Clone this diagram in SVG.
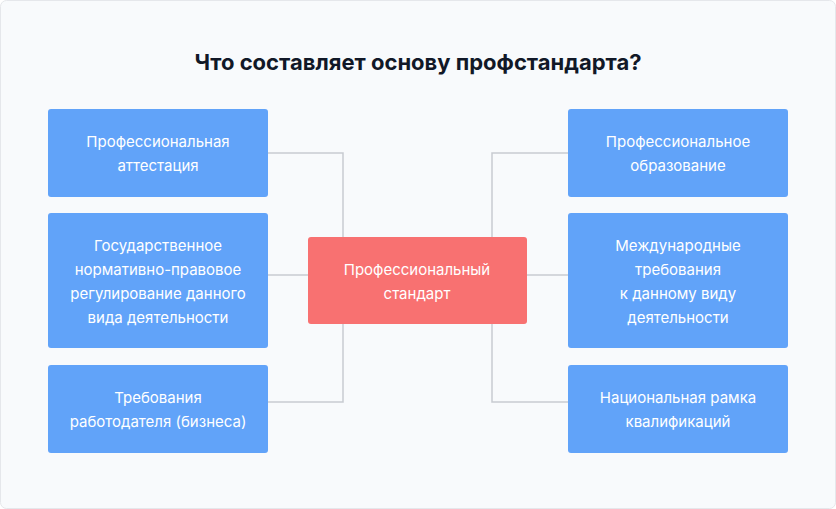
<svg xmlns="http://www.w3.org/2000/svg" width="836" height="509" viewBox="0 0 836 509">
<style>
.b{fill:#61a3f9}
.c{fill:#f87171}
.t{font-family:Inter,"Noto Sans",sans-serif;font-size:15px;fill:#fff;text-anchor:middle}
.h{font-family:Inter,"Noto Sans",sans-serif;font-size:22px;font-weight:700;fill:#111827;text-anchor:middle}
.l{fill:none;stroke:#c7cbd1;stroke-width:1.5}
</style>
<rect x="0.5" y="0.5" width="835" height="508" rx="6" fill="#f8fafc" stroke="#e5e7eb"/>
<text class="h" x="418" y="70">Что составляет основу профстандарта?</text>
<g id="connectors">
<path class="l" d="M268 153H343V237M268 275H308M268 402H343V324"/>
<path class="l" d="M568 153H492V237M568 275H527M568 402H492V324"/>
</g>
<g id="n1"><rect class="b" x="48" y="109" width="220" height="88" rx="3"/><text class="t" x="158" y="147">Профессиональная</text><text class="t" x="158" y="171">аттестация</text></g>
<g id="n2"><rect class="b" x="48" y="213" width="220" height="135" rx="3"/><text class="t" x="158" y="251">Государственное</text><text class="t" x="158" y="275">нормативно-правовое</text><text class="t" x="158" y="299">регулирование данного</text><text class="t" x="158" y="323">вида деятельности</text></g>
<g id="n3"><rect class="b" x="48" y="365" width="220" height="88" rx="3"/><text class="t" x="158" y="403">Требования</text><text class="t" x="158" y="427">работодателя (бизнеса)</text></g>
<g id="center"><rect class="c" x="308" y="237" width="219" height="87" rx="3"/><text class="t" x="417" y="275">Профессиональный</text><text class="t" x="417" y="299">стандарт</text></g>
<g id="n4"><rect class="b" x="568" y="109" width="220" height="88" rx="3"/><text class="t" x="678" y="147">Профессиональное</text><text class="t" x="678" y="171">образование</text></g>
<g id="n5"><rect class="b" x="568" y="213" width="220" height="135" rx="3"/><text class="t" x="678" y="251">Международные</text><text class="t" x="678" y="275">требования</text><text class="t" x="678" y="299">к данному виду</text><text class="t" x="678" y="323">деятельности</text></g>
<g id="n6"><rect class="b" x="568" y="365" width="220" height="88" rx="3"/><text class="t" x="678" y="403">Национальная рамка</text><text class="t" x="678" y="427">квалификаций</text></g>
</svg>
